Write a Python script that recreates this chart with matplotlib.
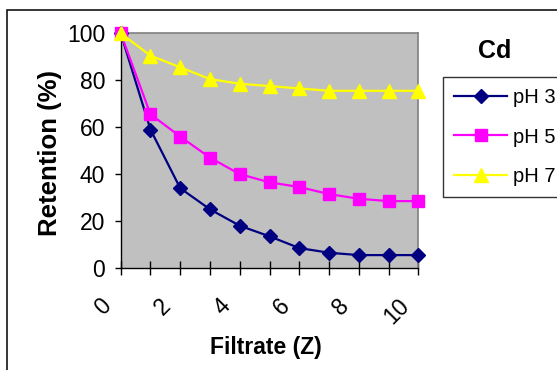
import matplotlib
matplotlib.use("Agg")
import matplotlib.pyplot as plt
from matplotlib.patches import Rectangle
from matplotlib.transforms import ScaledTranslation

# ---- data ----
filtrate = [0, 1, 2, 3, 4, 5, 6, 7, 8, 9, 10]
ph3 = [100, 59, 34, 25, 18, 13.5, 8.5, 6.5, 5.5, 5.5, 5.5]
ph5 = [100, 65.5, 56, 47, 40, 36.5, 34.5, 31.5, 29.5, 28.5, 28.5]
ph7 = [100, 90.5, 85.5, 80.5, 78.5, 77.5, 76.5, 75.5, 75.5, 75.5, 75.5]
series_labels = ["pH 3", "pH 5", "pH 7"]
xtick_labels = ["0", "", "2", "", "4", "", "6", "", "8", "", "10"]
yticks = [0, 20, 40, 60, 80, 100]

W, H = 557, 370
fig = plt.figure(figsize=(W / 100, H / 100), dpi=100)

font = ["Liberation Sans", "DejaVu Sans"]

# outer chart border
fig.patches.append(Rectangle((7.3 / W, -0.2), 1.2, 1.2 - 10 / H,
                             transform=fig.transFigure, fill=False,
                             edgecolor="black", linewidth=1.1))

left, right, top, bottom = 120.7, 418.3, 33.3, 268.0
ax = fig.add_axes([left / W, 1 - bottom / H, (right - left) / W, (bottom - top) / H])
ax.set_facecolor("#C0C0C0")

ax.plot(filtrate, ph3, color="#000080", marker="D", markersize=7, linewidth=1.6,
        label=series_labels[0], clip_on=False, zorder=3)
ax.plot(filtrate, ph5, color="#FF00FF", marker="s", markersize=8.5, linewidth=1.6,
        label=series_labels[1], clip_on=False, zorder=3)
ax.plot(filtrate, ph7, color="#FFFF00", marker="^", markersize=10, linewidth=1.6,
        label=series_labels[2], clip_on=False, zorder=3)

ax.set_xlim(0, 10)
ax.set_ylim(0, 100)

for s in ["top", "right"]:
    ax.spines[s].set_color("#808080")
    ax.spines[s].set_linewidth(1.2)
for s in ["left", "bottom"]:
    ax.spines[s].set_color("black")
    ax.spines[s].set_linewidth(1.0)

ax.set_yticks(yticks)
ax.set_yticklabels([str(v) for v in yticks], fontfamily=font, fontsize=16.5)
ax.tick_params(axis="y", direction="out", length=4.3, width=1.0, pad=7)

ax.set_xticks(filtrate)
ax.set_xticklabels(xtick_labels, fontfamily=font, fontsize=16.5,
                   rotation=45, ha="right", va="center", rotation_mode="anchor")
ax.tick_params(axis="x", direction="inout", length=9.4, width=1.0, pad=20)
off = ScaledTranslation(-13 / 100, 0, fig.dpi_scale_trans)
for t in ax.xaxis.get_major_ticks():
    t.label1.set_transform(t.label1.get_transform() + off)

ax.set_xlabel("Filtrate (Z)", fontfamily=font, fontsize=16.5, fontweight="bold")
ax.xaxis.set_label_coords((266 - left) / (right - left), (bottom - 336) / (bottom - top))
ax.xaxis.label.set_va("top")

ax.set_ylabel("Retention (%)", fontfamily=font, fontsize=18.5, fontweight="bold")
ax.yaxis.set_label_coords((62 - left) / (right - left), (bottom - 153) / (bottom - top))

fig.text(495 / W, 1 - 50.5 / H, "Cd", fontfamily=font, fontsize=18,
         fontweight="bold", ha="center", va="center")

leg = ax.legend(loc="upper left", bbox_to_anchor=(443.3 / W, 1 - 76.7 / H),
                bbox_transform=fig.transFigure, borderaxespad=0,
                prop={"family": font, "size": 14.5}, frameon=True,
                fancybox=False, shadow=False, handlelength=2.6,
                handletextpad=0.3, labelspacing=1.03, borderpad=0.55)
leg.get_frame().set_edgecolor("black")
leg.get_frame().set_linewidth(1.0)

fig.savefig("out.png", dpi=100)
